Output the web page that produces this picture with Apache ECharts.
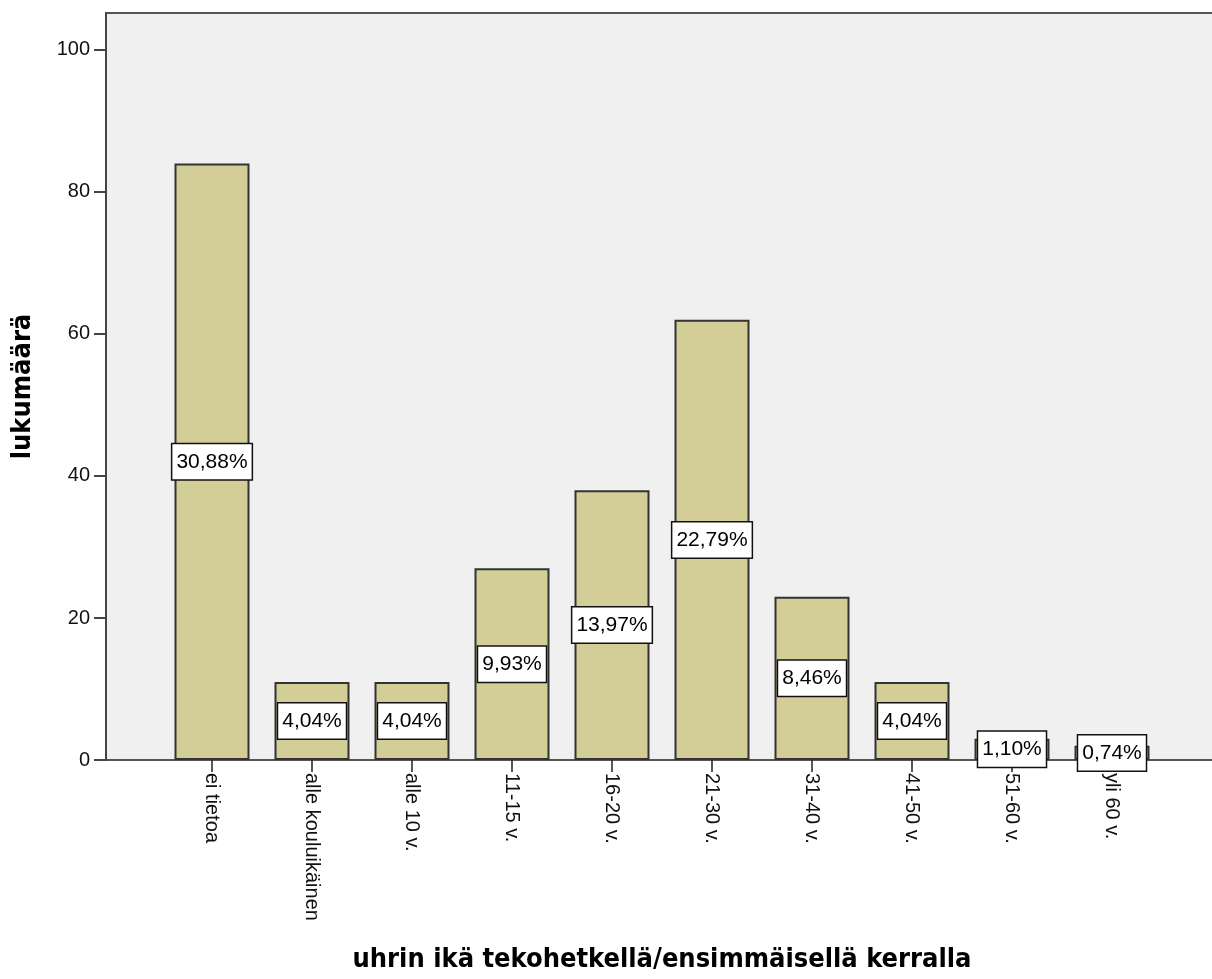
<!DOCTYPE html>
<html>
<head>
<meta charset="utf-8">
<script src="https://cdn.jsdelivr.net/npm/echarts@6/dist/echarts.min.js"></script>
<style>
html,body{margin:0;padding:0;background:#fff;}
#chart{width:1212px;height:979px;}
</style>
</head>
<body>
<div id="chart"></div>
<script>
var categories = ['ei tietoa', 'alle kouluikäinen', 'alle 10 v.', '11-15 v.', '16-20 v.', '21-30 v.', '31-40 v.', '41-50 v.', '51-60 v.', 'yli 60 v.'];
var counts = [84, 11, 11, 27, 38, 62, 23, 11, 3, 2];
var percentLabels = ['30,88%', '4,04%', '4,04%', '9,93%', '13,97%', '22,79%', '8,46%', '4,04%', '1,10%', '0,74%'];
var yTicks = [0, 20, 40, 60, 80, 100];
var yMax = 105.2;

var chart = echarts.init(document.getElementById('chart'));
var titleFont = "'DejaVu Sans Condensed', 'DejaVu Sans', sans-serif";
var textFont = "'Liberation Sans', Arial, sans-serif";

chart.setOption({
  animation: false,
  backgroundColor: '#ffffff',
  grid: [
    { left: 106, right: -10, top: 13, bottom: 219, show: true, backgroundColor: '#f0f0f0', borderColor: '#555', borderWidth: 2, containLabel: false, outerBoundsMode: 'none' },
    { left: 162, width: 1000, top: 13, bottom: 219, show: false, containLabel: false, outerBoundsMode: 'none' }
  ],
  xAxis: [
    { gridIndex: 0, type: 'value', min: 0, max: 1, show: false },
    {
      gridIndex: 1, type: 'category', data: categories,
      axisLine: { show: false },
      axisTick: { show: true, alignWithLabel: true, length: 12, lineStyle: { color: '#222', width: 1.5 } },
      axisLabel: { rotate: -90, fontSize: 20, color: '#111', fontFamily: textFont, margin: 13, interval: 0 },
      name: 'uhrin ikä tekohetkellä/ensimmäisellä kerralla',
      nameLocation: 'middle', nameGap: 186,
      nameTextStyle: { fontSize: 27, fontWeight: 'bold', color: '#000', fontFamily: titleFont }
    }
  ],
  yAxis: [
    {
      gridIndex: 0, type: 'value', min: 0, max: yMax,
      axisLine: { show: true, lineStyle: { color: '#444', width: 2 } },
      axisTick: { show: true, length: 12, customValues: yTicks, lineStyle: { color: '#444', width: 2 } },
      splitLine: { show: false },
      axisLabel: {
        fontSize: 20, color: '#111', fontFamily: textFont, margin: 16, customValues: yTicks
      },
      name: 'lukumäärä', nameLocation: 'middle', nameGap: 70,
      nameTextStyle: { fontSize: 27, fontWeight: 'bold', color: '#000', fontFamily: titleFont }
    },
    { gridIndex: 1, type: 'value', min: 0, max: yMax, show: false }
  ],
  series: [{
    type: 'bar',
    xAxisIndex: 1, yAxisIndex: 1,
    data: counts,
    barWidth: 75,
    itemStyle: { color: '#d3ce97', borderColor: '#333', borderWidth: 2 },
    label: {
      show: true, position: 'inside',
      formatter: function (p) { return percentLabels[p.dataIndex]; },
      fontSize: 21, color: '#000', fontFamily: textFont,
      backgroundColor: '#ffffff', borderColor: '#111', borderWidth: 1.5,
      padding: [7, 4, 6, 4], lineHeight: 22
    }
  }]
});
</script>
</body>
</html>
